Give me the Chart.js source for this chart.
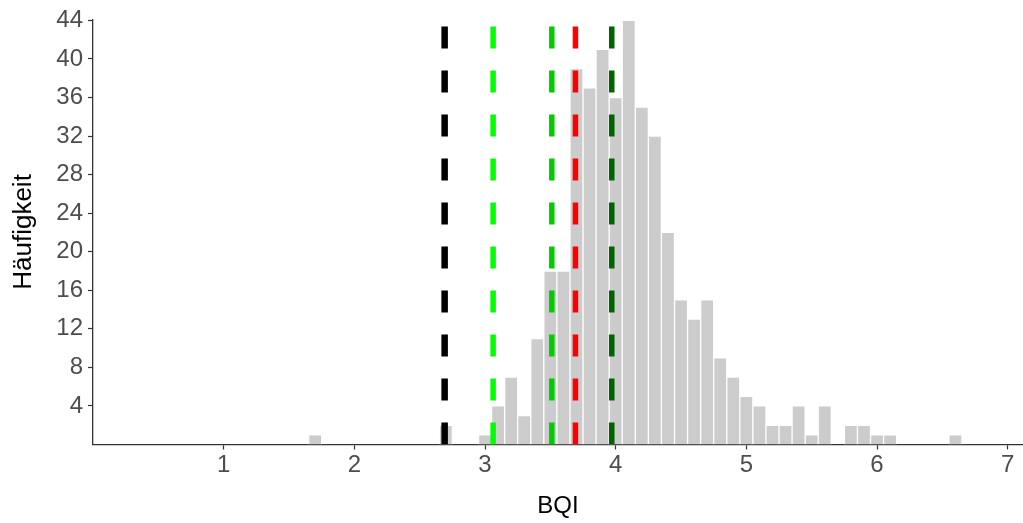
<!DOCTYPE html>
<html>
<head>
<meta charset="utf-8">
<script src="https://cdn.jsdelivr.net/npm/chart.js@4.4.0/dist/chart.umd.min.js"></script>
<style>
  body { margin: 0; background: #fff; }
  #wrap { width: 1023px; height: 523px; }
</style>
</head>
<body>
<div id="wrap"><canvas id="chart" width="1023" height="523"></canvas></div>
<script>
// histogram bins (centres, width 0.1) and counts
const binCenters = [1.7, 1.8, 1.9, 2.0, 2.1, 2.2, 2.3, 2.4, 2.5, 2.6, 2.7, 2.8, 2.9,
    3.0, 3.1, 3.2, 3.3, 3.4, 3.5, 3.6, 3.7, 3.8, 3.9, 4.0, 4.1, 4.2, 4.3, 4.4, 4.5,
    4.6, 4.7, 4.8, 4.9, 5.0, 5.1, 5.2, 5.3, 5.4, 5.5, 5.6, 5.7, 5.8, 5.9, 6.0, 6.1,
    6.2, 6.3, 6.4, 6.5, 6.6];
const counts = [1, 0, 0, 0, 0, 0, 0, 0, 0, 0, 2, 0, 0,
    1, 4, 7, 3, 11, 18, 18, 39, 37, 41, 36, 44, 35, 32, 22, 15,
    13, 15, 9, 7, 5, 4, 2, 2, 4, 1, 4, 0, 2, 2, 1, 1,
    0, 0, 0, 0, 1];

// reference lines (x position and colour)
const refLines = [2.691, 3.062, 3.511, 3.692, 3.970];
const refColors = ['#000000', '#00FF00', '#00CD00', '#FF0000', '#006400'];

const xTicks = [1, 2, 3, 4, 5, 6, 7];
const yTicks = [4, 8, 12, 16, 20, 24, 28, 32, 36, 40, 44];

const yMax = 44.1;
const fontFamily = "'Liberation Sans', Arial, sans-serif";

let datasets = [{
    type: 'bar',
    data: binCenters.map((x, i) => ({ x: x, y: counts[i] })),
    backgroundColor: '#CCCCCC',
    borderColor: '#FFFFFF',
    borderWidth: 1,
    barPercentage: 1,
    categoryPercentage: 1,
    order: 2
}];

refLines.forEach((x, i) => {
    datasets.push({
        type: 'line',
        data: [{ x: x, y: 0 }, { x: x, y: yMax }],
        borderColor: refColors[i],
        borderWidth: i === 0 ? 6.5 : 5.5,
        borderDash: [22, 22],
        pointRadius: 0,
        fill: false,
        order: 1
    });
});

new Chart(document.getElementById('chart').getContext('2d'), {
    data: { datasets: datasets },
    options: {
        responsive: false,
        animation: false,
        layout: { padding: { top: 19, right: 0, left: 0, bottom: 0 } },
        plugins: { legend: { display: false }, tooltip: { enabled: false } },
        scales: {
            x: {
                type: 'linear',
                min: 0,
                max: 7.117,
                offset: false,
                afterBuildTicks: scale => { scale.ticks = xTicks.map(v => ({ value: v })); },
                afterFit: scale => { scale.height = 78.5; },
                grid: { display: true, drawOnChartArea: false, offset: false, tickLength: 5, color: '#333333', tickWidth: 1.2 },
                border: { display: true, color: '#333333', width: 1.3 },
                ticks: { color: '#4D4D4D', font: { family: fontFamily, size: 24 }, padding: 1, maxRotation: 0 },
                title: { display: true, text: 'BQI', color: '#000000', font: { family: fontFamily, size: 24 }, padding: { top: 0, bottom: 2 } }
            },
            y: {
                min: 0,
                max: yMax,
                afterBuildTicks: scale => { scale.ticks = yTicks.map(v => ({ value: v })); },
                afterFit: scale => { scale.width = 93; },
                grid: { display: true, drawOnChartArea: false, tickLength: 5, color: '#333333', tickWidth: 1.2 },
                border: { display: true, color: '#333333', width: 1.3 },
                ticks: { color: '#4D4D4D', font: { family: fontFamily, size: 24 }, padding: 5 },
                title: { display: true, text: 'Häufigkeit', color: '#000000', font: { family: fontFamily, size: 26 }, padding: { top: 8, bottom: 0 } }
            }
        }
    }
});
</script>
</body>
</html>
